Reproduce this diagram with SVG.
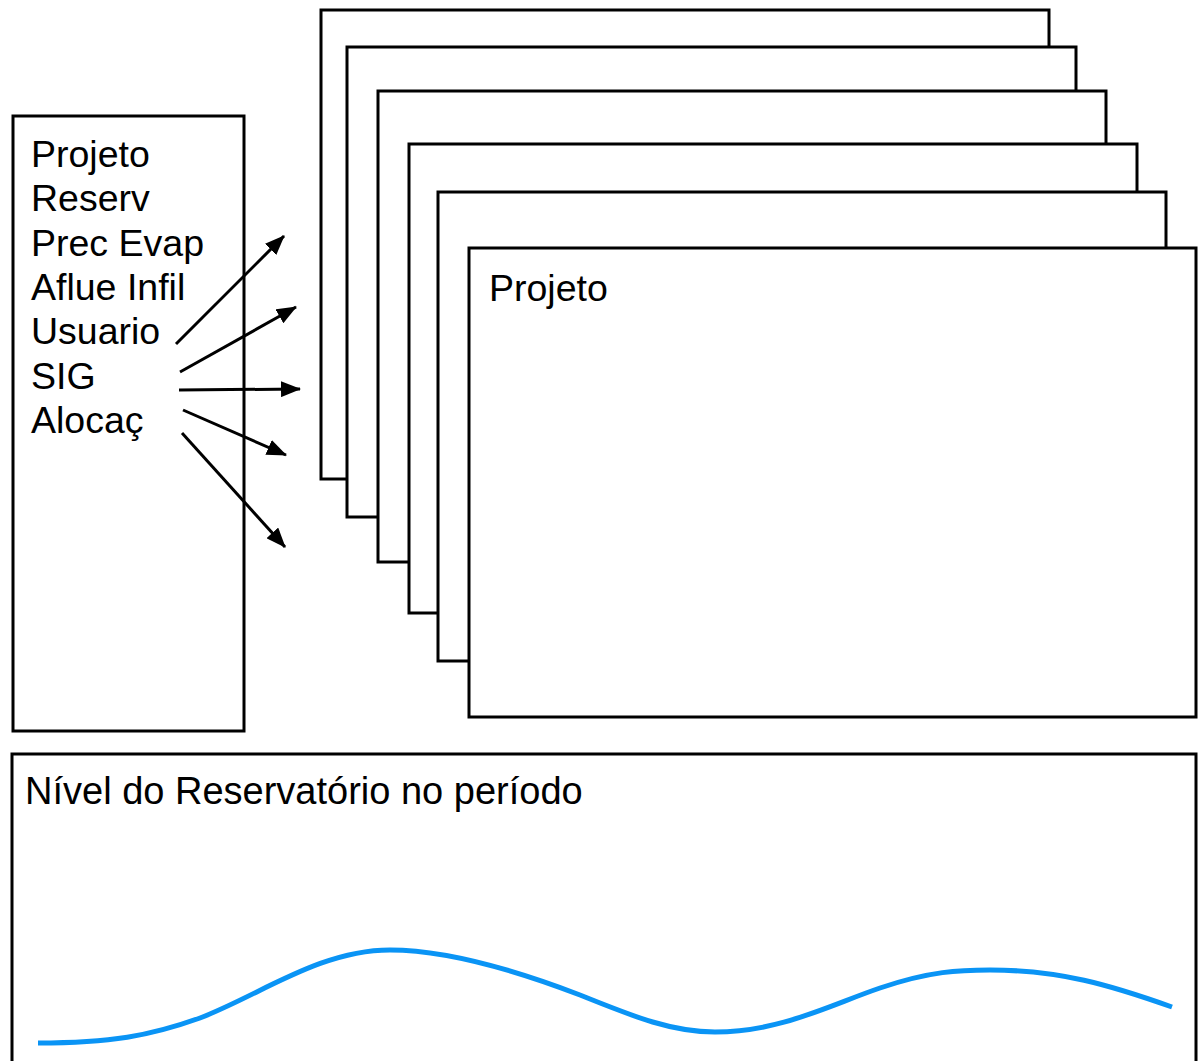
<svg xmlns="http://www.w3.org/2000/svg" width="1199" height="1061" viewBox="0 0 1199 1061">
<style>
.box{fill:#fff;stroke:#000;stroke-width:3}
.t{font-family:"Liberation Sans",Arial,sans-serif;font-size:37.5px;fill:#000}
.c{stroke:#000;stroke-width:3;fill:none}
</style>
<defs>
<marker id="ah" viewBox="0 0 20 16" refX="19" refY="8" markerWidth="20" markerHeight="16" markerUnits="userSpaceOnUse" orient="auto">
<path d="M0,0 L20,8 L0,16 z" fill="#000"/>
</marker>
</defs>
<rect width="1199" height="1061" fill="#fff"/>
<g id="left-panel">
<rect class="box" x="13" y="116" width="231" height="615"/>
<text class="t" x="31" y="167">Projeto</text>
<text class="t" x="31" y="211">Reserv</text>
<text class="t" x="31" y="256">Prec Evap</text>
<text class="t" x="31" y="300">Aflue Infil</text>
<text class="t" x="31" y="344">Usuario</text>
<text class="t" x="31" y="389">SIG</text>
<text class="t" x="31" y="433">Alocaç</text>
</g>
<g id="card1"><rect class="box" x="321" y="10" width="728" height="469"/></g>
<g id="card2"><rect class="box" x="347" y="47" width="729" height="470"/></g>
<g id="card3"><rect class="box" x="378" y="91" width="728" height="471"/></g>
<g id="card4"><rect class="box" x="409" y="144" width="728" height="469"/></g>
<g id="card5"><rect class="box" x="438" y="192" width="728" height="469"/></g>
<g id="card6"><rect class="box" x="469" y="248" width="727" height="469"/>
<text class="t" x="489" y="301">Projeto</text></g>
<g id="connectors">
<line class="c" x1="176" y1="344" x2="284" y2="236" marker-end="url(#ah)"/>
<line class="c" x1="180" y1="372" x2="296" y2="307" marker-end="url(#ah)"/>
<line class="c" x1="179" y1="390" x2="300" y2="389" marker-end="url(#ah)"/>
<line class="c" x1="183" y1="410" x2="286" y2="455" marker-end="url(#ah)"/>
<line class="c" x1="182" y1="433" x2="285" y2="547" marker-end="url(#ah)"/>
</g>
<g id="level-panel">
<rect class="box" x="12" y="754" width="1184" height="320"/>
<text class="t" x="25" y="804" style="font-size:38px">Nível do Reservatório no período</text>
<path d="M38,1043 C110,1043 150,1036 200,1018 C260,995 320,950 390,950 C450,950 520,972 580,995 C630,1015 670,1032 715,1032 C780,1032 830,1005 880,988 C930,971 960,970 990,970 C1060,970 1110,985 1172,1007" fill="none" stroke="#0a94f5" stroke-width="5"/>
</g>
</svg>
